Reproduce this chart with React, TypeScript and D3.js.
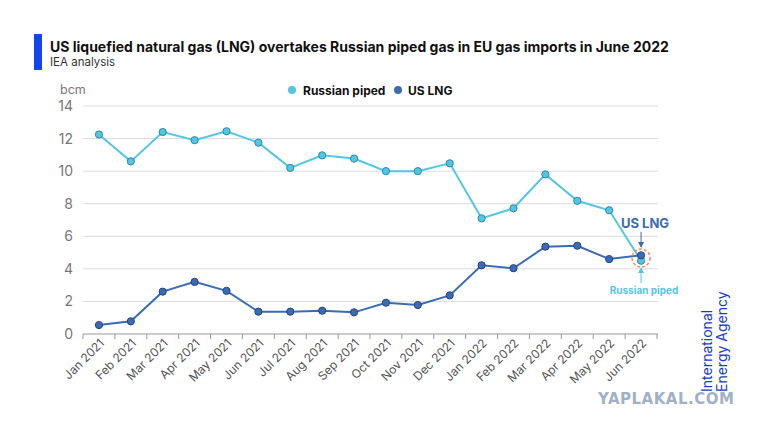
import * as React from 'react';
import * as d3 from 'd3';

const months = ['Jan 2021', 'Feb 2021', 'Mar 2021', 'Apr 2021', 'May 2021', 'Jun 2021', 'Jul 2021', 'Aug 2021', 'Sep 2021', 'Oct 2021', 'Nov 2021', 'Dec 2021',
    'Jan 2022', 'Feb 2022', 'Mar 2022', 'Apr 2022', 'May 2022', 'Jun 2022'];
const russianPiped = [12.25, 10.6, 12.4, 11.9, 12.45, 11.75, 10.2, 10.97, 10.77, 10.0, 10.0, 10.48, 7.1, 7.72, 9.8, 8.18, 7.6, 4.5];
const usLng = [0.55, 0.78, 2.6, 3.2, 2.65, 1.37, 1.37, 1.43, 1.33, 1.92, 1.78, 2.37, 4.22, 4.04, 5.36, 5.42, 4.6, 4.83];
const yTicks = [0, 2, 4, 6, 8, 10, 12, 14];

const W = 760, H = 428;
const margin = { left: 83, right: 103, top: 106, bottom: 94 };
const font = 'Inter, "Noto Sans", sans-serif';
const cRus = '#54c6e3';
const cRusDark = '#2b8aa3';
const cLng = '#3b6cb3';
const cLngDark = '#23457e';

const App = () => {
    const x = d3.scaleBand().domain(months).range([margin.left, W - margin.right]);
    const y = d3.scaleLinear().domain([0, 14]).range([H - margin.bottom, margin.top]);
    const cx = (m: string) => (x(m) as number) + x.bandwidth() / 2;
    const line = d3.line<number>().x((_, i) => cx(months[i])).y(d => y(d));

    const series = [
        { values: russianPiped, color: cRus, stroke: cRusDark },
        { values: usLng, color: cLng, stroke: cLngDark },
    ];
    const last = months[months.length - 1];
    const lx = cx(last);

    return <div style={{ position: 'absolute', left: 0, top: 0 }}>
        <svg width={W} height={H} style={{ fontFamily: font, display: 'block', background: '#fff' }}>
            <defs>
                <marker id="arrLng" viewBox="0 0 6 6" refX="3" refY="3" markerWidth="6" markerHeight="6" orient="auto">
                    <path d="M0,0 L6,3 L0,6 Z" fill={cLng} />
                </marker>
                <marker id="arrRus" viewBox="0 0 6 6" refX="3" refY="3" markerWidth="6" markerHeight="6" orient="auto">
                    <path d="M0,0 L6,3 L0,6 Z" fill={cRus} />
                </marker>
            </defs>
            <rect x={34} y={34} width={8} height={36} fill="#1346f0" />
            <text x={50} y={52} fontSize={14} fontWeight={700} fill="#111">US liquefied natural gas (LNG) overtakes Russian piped gas in EU gas imports in June 2022</text>
            <text x={50} y={66} fontSize={11.5} fill="#333">IEA analysis</text>

            {yTicks.map(t => <g key={t}>
                {t > 0 && <line x1={margin.left} x2={W - margin.right + 1} y1={y(t)} y2={y(t)} stroke="#dcdcdc" />}
                <text x={73} y={y(t) + 5} textAnchor="end" fontSize={14} fill="#777">{t}</text>
            </g>)}
            <text x={60} y={94} fontSize={12.5} fill="#777">bcm</text>

            <line x1={margin.left} x2={W - margin.right + 1} y1={y(0)} y2={y(0)} stroke="#999" />
            {months.map(m => <line key={m} x1={x(m) as number} x2={x(m) as number} y1={y(0)} y2={y(0) + 5} stroke="#999" />)}
            <line x1={W - margin.right} x2={W - margin.right} y1={y(0)} y2={y(0) + 5} stroke="#999" />
            {months.map(m => <text key={m} transform={`translate(${cx(m) + 6},${y(0) + 10}) rotate(-45)`} textAnchor="end" fontSize={12} fill="#555">{m}</text>)}

            {series.map((s, k) => <g key={k}>
                <path d={line(s.values) as string} fill="none" stroke={s.color} strokeWidth={2} />
                {s.values.map((v, i) => <circle key={i} cx={cx(months[i])} cy={y(v)} r={3.6} fill={s.color} stroke={s.stroke} strokeWidth={1} />)}
            </g>)}

            <circle cx={292} cy={90} r={4} fill={cRus} />
            <text x={303} y={94.5} fontSize={12} fontWeight={700} fill="#111">Russian piped</text>
            <circle cx={398} cy={90} r={4} fill={cLng} />
            <text x={408} y={94.5} fontSize={12} fontWeight={700} fill="#111">US LNG</text>

            <circle cx={lx} cy={(y(russianPiped[17]) + y(usLng[17])) / 2} r={9} fill="none" stroke="#f08a5d" strokeWidth={1.5} strokeDasharray="3,2" />
            <text x={lx + 4} y={228} textAnchor="middle" fontSize={13} fontWeight={700} fill={cLng}>US LNG</text>
            <line x1={lx} x2={lx} y1={232} y2={245} stroke={cLng} strokeWidth={1} markerEnd="url(#arrLng)" />
            <text x={lx + 3} y={294} textAnchor="middle" fontSize={10} fontWeight={700} fill={cRus}>Russian piped</text>
            <line x1={lx} x2={lx} y1={283} y2={270} stroke={cRus} strokeWidth={1} markerEnd="url(#arrRus)" />

            <g transform="translate(712,392) rotate(-90)">
                <text x={0} y={0} fontSize={14} fill="#1a3ccc">International</text>
                <text x={0} y={15} fontSize={14} fill="#1a3ccc">Energy Agency</text>
            </g>
            <text x={598} y={404} fontSize={15} fontWeight={900} fill="#9fb1c6" letterSpacing={0.5} fontFamily="DejaVu Sans, sans-serif">YAPLAKAL.COM</text>
        </svg>
    </div>;
};

export default App;
